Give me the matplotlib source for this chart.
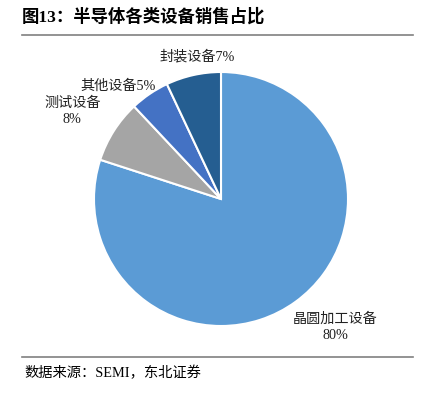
import matplotlib.pyplot as plt
from matplotlib.lines import Line2D

plt.rcParams['font.family'] = ['Liberation Serif', 'Noto Sans CJK SC']

categories = ['晶圆加工设备', '测试设备', '其他设备', '封装设备']
shares = [80, 8, 5, 7]
colors = ['#5B9BD5', '#A5A5A5', '#4472C4', '#255E91']

fig = plt.figure(figsize=(4.26, 3.95), dpi=100)

# title and rules
fig.text(22 / 426, 1 - 17 / 395, '图13：半导体各类设备销售占比', fontsize=12.5,
         fontweight='bold', va='center', ha='left')
fig.add_artist(Line2D([22 / 426, 413 / 426], [1 - 35 / 395, 1 - 35 / 395],
                      color='#808080', lw=1.2))
fig.add_artist(Line2D([22 / 426, 413 / 426], [1 - 357 / 395, 1 - 357 / 395],
                      color='#808080', lw=1.2))
fig.text(24 / 426, 1 - 373 / 395, '数据来源：SEMI，东北证券', fontsize=10.3,
         va='center', ha='left')

ax = fig.add_axes([94 / 426, 1 - 326 / 395, 254 / 426, 254 / 395])
ax.pie(shares, colors=colors, startangle=90, counterclock=False,
       wedgeprops=dict(edgecolor='white', linewidth=1.5))
ax.set_xlim(-1, 1)
ax.set_ylim(-1, 1)
ax.set_aspect('equal')
ax.axis('off')

label_pos = [(0.90, -1.01), (-1.17, 0.69), (-0.81, 0.89), (-0.19, 1.12)]
label_txt = ['晶圆加工设备\n80%', '测试设备\n8%', '其他设备5%', '封装设备7%']
for (x, y), t in zip(label_pos, label_txt):
    ax.text(x, y, t, fontsize=10.2, ha='center', va='center', color='#222222',
            linespacing=1.25, clip_on=False)

fig.savefig('out.png', dpi=100)
